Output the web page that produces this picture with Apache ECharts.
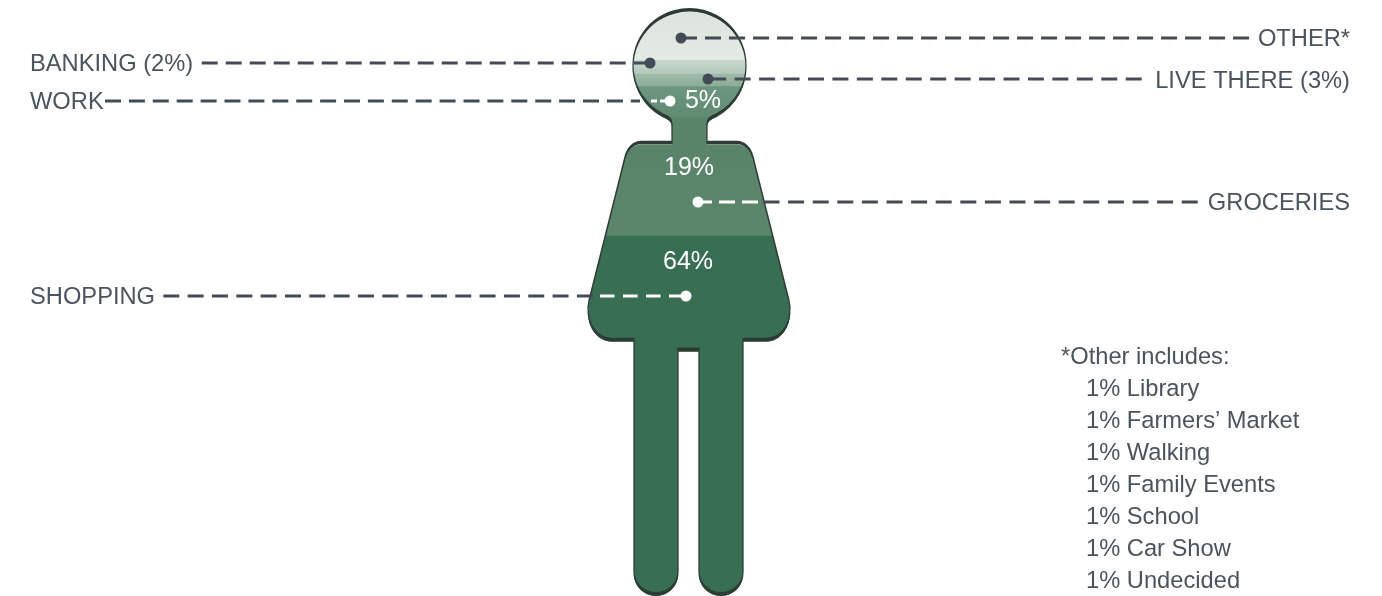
<!DOCTYPE html>
<html><head><meta charset="utf-8">
<style>html,body{margin:0;padding:0;background:#fff}#c{width:1382px;height:596px}</style>
<script src="https://cdn.jsdelivr.net/npm/echarts@6/dist/echarts.min.js"></script>
</head><body><div id="c"></div>
<script>
// --- data ---
const categories = ['SHOPPING','GROCERIES','WORK','LIVE THERE','BANKING','OTHER'];
const shares = [64,19,5,3,2,7];
// top of each colour band, as % of the figure height (as drawn)
const fillLevels = [61.7,81.9,87.3,89.4,91.8,100];
const otherItems = ['1% Library','1% Farmers’ Market','1% Walking','1% Family Events','1% School','1% Car Show','1% Undecided'];
const otherTitle = '*Other includes:';

// --- styling ---
const figTop = 9, figH = 590;
function grad(stops){ // stops: [pageY, colour]
  return {type:'linear',x:0,y:0,x2:0,y2:1,global:false,
    colorStops:stops.map(s=>({offset:(s[0]-figTop)/figH,color:s[1]}))};
}
const bandColors = [
  '#386e51',
  grad([[118,'#5a8469'],[236,'#5b866c']]),
  grad([[87,'#6c957d'],[118,'#5f8a70']]),
  grad([[74,'#9cb8a6'],[87,'#86a892']]),
  grad([[60,'#c6d6cb'],[74,'#acc4b4']]),
  grad([[9,'#dbe4dd'],[59,'#e4eae4']])
];
const textColor = '#4a545e', lineColor = '#434c56', outlineColor = '#2f3b36';
const person = 'path://M672 143 L672 125 C672 119 667 117 662.3 115 A56.5 56.5 0 1 1 716.7 115 C712 117 707 119 707 125 L707 143 L737 143 C745 143 751 150 753 158 L789 303 C793 320 785 342 765 342 L743 342 L743 577 A22 22 0 0 1 699 577 L699 352 L678 352 L678 577 A22 22 0 0 1 634 577 L634 342 L613 342 C593 342 585 320 589 303 L625 158 C627 150 633 143 641 143 Z';

const series = [];
for (let i = fillLevels.length-1; i>=0; i--) {
  series.push({type:'pictorialBar',name:categories[i],data:[fillLevels[i]],symbol:person,symbolClip:true,
    symbolBoundingData:100,symbolSize:['100%','100%'],barWidth:'100%',barGap:'-100%',silent:true,
    itemStyle:{color:bandColors[i]},z:10+fillLevels.length-i});
}
series.push({type:'pictorialBar',name:'outline',data:[100],symbol:person,symbolClip:false,
  symbolBoundingData:100,symbolSize:['100%','100%'],barWidth:'100%',barGap:'-100%',silent:true,
  itemStyle:{color:'rgba(0,0,0,0)',borderColor:outlineColor,borderWidth:2.5},z:30});

// --- annotation layout ---
const lw=3;
function text(s,x,y,align,size,color){return {type:'text',z:50,style:{text:s,x,y:y+1,align:align||'left',verticalAlign:'middle',
  font:(size||23.7)+'px "Liberation Sans", Arial, sans-serif',fill:color||textColor}};}
function seg(x1,x2,y,color,dash,gap){return {type:'line',z:40,shape:{x1,y1:y,x2,y2:y},style:{stroke:color,lineWidth:lw,lineDash:[dash,gap]}};}
function dot(x,y,color){return {type:'circle',z:41,shape:{cx:x,cy:y,r:5.5},style:{fill:color}};}
// each leader runs from its label end to its dot; some turn white inside the figure
function leader(startx,dx,y,gap,white){
  const out=[];
  if(!white){out.push(seg(startx,dx,y,lineColor,16,gap));out.push(dot(dx,y,lineColor));}
  else{
    out.push(seg(startx,white.split,y,lineColor,16,gap));
    out.push(seg(white.start,dx,y,'#ffffff',white.dash,white.gap));
    out.push(dot(dx,y,'#ffffff'));
  }
  return out;
}
const idx = n => categories.indexOf(n);
const gr = [
  ...leader(1249,681,38,8),
  ...leader(1141.7,708,79,8.44),
  ...leader(201.7,650,63,8),
  ...leader(105,670,101,7.9,{split:640,start:651,dash:6,gap:3}),
  ...leader(1197.7,698,202,8.6,{split:763,start:758,dash:16,gap:7}),
  ...leader(163.3,686,296,8.33,{split:593,start:600,dash:14.5,gap:8.5}),
  text(categories[idx('OTHER')]+'*',1350,38,'right'),
  text(categories[idx('LIVE THERE')]+' ('+shares[idx('LIVE THERE')]+'%)',1350,80,'right'),
  text(categories[idx('GROCERIES')],1350,202,'right'),
  text(categories[idx('BANKING')]+' ('+shares[idx('BANKING')]+'%)',30,63),
  text(categories[idx('WORK')],30,101),
  text(categories[idx('SHOPPING')],30,296),
  text(shares[idx('WORK')]+'%',703,100,'center',25,'#fff'),
  text(shares[idx('GROCERIES')]+'%',689,167,'center',25,'#fff'),
  text(shares[idx('SHOPPING')]+'%',688,261,'center',25,'#fff'),
  text(otherTitle,1061,356),
  ...otherItems.map((s,i)=>text(s,1086,388+32*i))
];

const chart = echarts.init(document.getElementById('c'),null,{renderer:'canvas'});
chart.setOption({
  animation:false,
  grid:{left:588,top:figTop+3,width:202,height:figH+2},
  xAxis:{type:'category',data:[''],show:false},
  yAxis:{type:'value',min:0,max:100,show:false},
  series,
  graphic:gr
});
</script></body></html>
